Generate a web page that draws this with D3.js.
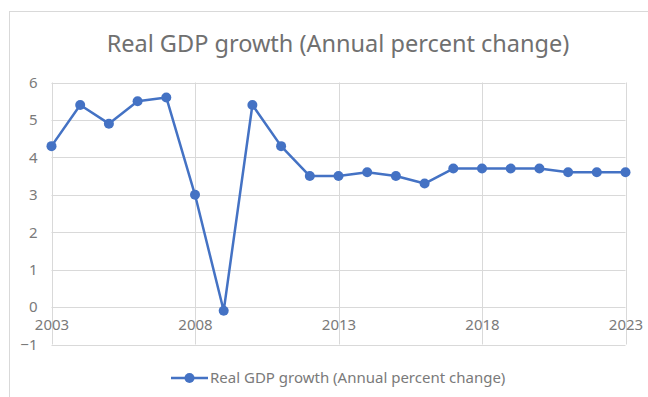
<!DOCTYPE html>
<html>
<head>
<meta charset="utf-8">
<script src="https://cdn.jsdelivr.net/npm/d3@7"></script>
<style>
  body { margin: 0; background: #fff; }
  text { font-family: "Noto Sans", "DejaVu Sans", sans-serif; }
</style>
</head>
<body>
<div id="chart"></div>
<script>
// data
const years = d3.range(2003, 2024);
const growth = [4.3, 5.4, 4.9, 5.5, 5.6, 3.0, -0.1, 5.4, 4.3, 3.5, 3.5, 3.6, 3.5, 3.3, 3.7, 3.7, 3.7, 3.7, 3.6, 3.6, 3.6];
const xTicks = [2003, 2008, 2013, 2018, 2023];
const yTicks = [-1, 0, 1, 2, 3, 4, 5, 6];
const title = "Real GDP growth (Annual percent change)";

const W = 648, H = 397;
const margin = { left: 51.5, right: 22.5, top: 82.5, bottom: 52.5 };
const color = "#4472C4";
const textColor = "#7a7a7a";

const svg = d3.select("#chart").append("svg")
  .attr("width", W)
  .attr("height", H);

// chart frame
svg.append("rect")
  .attr("x", 9.5).attr("y", 11.5)
  .attr("width", W).attr("height", H)
  .attr("fill", "none")
  .attr("stroke", "#d9d9d9");

const x = d3.scaleLinear()
  .domain([2003, 2023])
  .range([margin.left, W - margin.right]);

const y = d3.scaleLinear()
  .domain([-1, 6])
  .range([H - margin.bottom, margin.top]);

// title
svg.append("text")
  .attr("x", 338).attr("y", 52)
  .attr("text-anchor", "middle")
  .attr("font-size", "23.5px")
  .attr("fill", "#707070")
  .text(title);

// gridlines
svg.append("g").selectAll("line.h")
  .data(yTicks)
  .join("line")
  .attr("x1", margin.left).attr("x2", W - margin.right)
  .attr("y1", d => Math.round(y(d)) + 0.5).attr("y2", d => Math.round(y(d)) + 0.5)
  .attr("stroke", "#d9d9d9");

svg.append("g").selectAll("line.v")
  .data(xTicks)
  .join("line")
  .attr("x1", d => Math.round(x(d)) + 0.5).attr("x2", d => Math.round(x(d)) + 0.5)
  .attr("y1", y(6)).attr("y2", y(-1))
  .attr("stroke", "#d9d9d9");

// y axis labels
const yAxis = svg.append("g")
  .attr("transform", `translate(${margin.left - 14},0)`)
  .call(d3.axisLeft(y).tickValues(yTicks).tickSize(0).tickFormat(d3.format("d")));
yAxis.select(".domain").remove();
yAxis.selectAll(".tick text")
  .attr("fill", textColor)
  .attr("font-size", "15px")
  .attr("x", 0);

// x axis labels, sitting under the zero line
const xAxis = svg.append("g")
  .attr("transform", `translate(0,${y(0)})`)
  .call(d3.axisBottom(x).tickValues(xTicks).tickSize(0).tickFormat(d3.format("d")));
xAxis.select(".domain").remove();
xAxis.selectAll(".tick text")
  .attr("fill", textColor)
  .attr("font-size", "15px")
  .attr("y", 23)
  .attr("dy", 0);

// line + markers
const pts = years.map((yr, i) => [yr, growth[i]]);
svg.append("path")
  .datum(pts)
  .attr("fill", "none")
  .attr("stroke", color)
  .attr("stroke-width", 2.5)
  .attr("stroke-linejoin", "round")
  .attr("d", d3.line().x(d => x(d[0])).y(d => y(d[1])));

svg.append("g").selectAll("circle")
  .data(pts)
  .join("circle")
  .attr("cx", d => x(d[0]))
  .attr("cy", d => y(d[1]))
  .attr("r", 5)
  .attr("fill", color);

// legend
const lg = svg.append("g").attr("transform", "translate(171,378)");
lg.append("line")
  .attr("x1", 0).attr("x2", 37)
  .attr("stroke", color).attr("stroke-width", 2.5);
lg.append("circle").attr("cx", 18.5).attr("r", 5).attr("fill", color);
lg.append("text")
  .attr("x", 39).attr("dy", "0.35em")
  .attr("font-size", "15px")
  .attr("fill", textColor)
  .text(title);
</script>
</body>
</html>
